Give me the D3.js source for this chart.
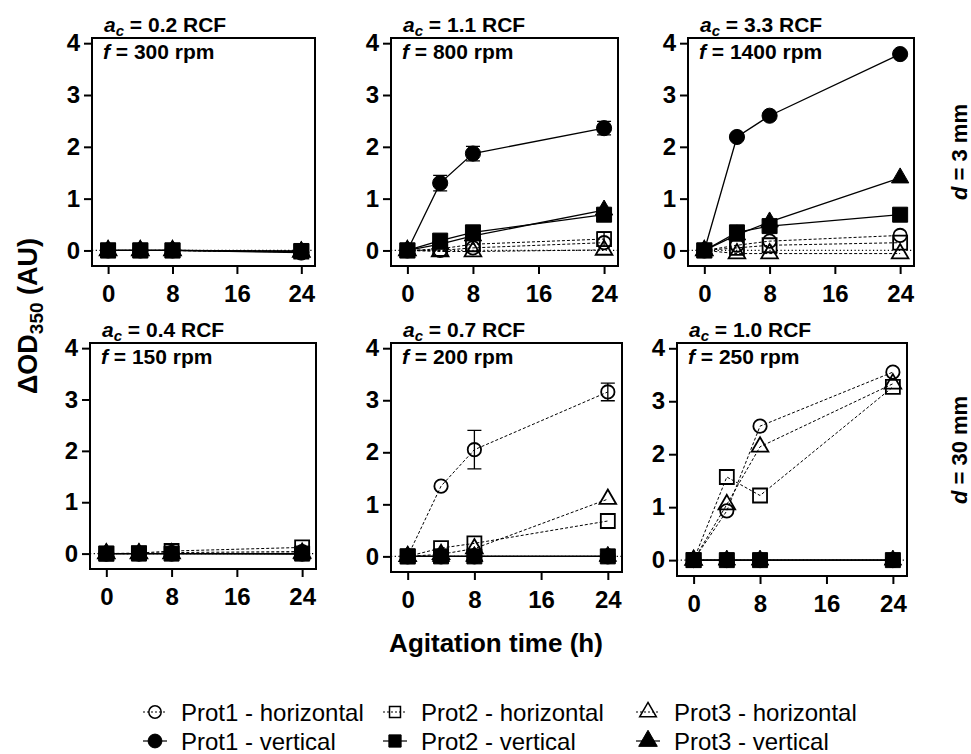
<!DOCTYPE html>
<html>
<head>
<meta charset="utf-8">
<script src="https://cdn.jsdelivr.net/npm/d3@7"></script>
<style>
body { margin: 0; background: #fff; }
svg { font-family: "Liberation Sans", Arial, sans-serif; }
</style>
</head>
<body>
<svg class="chart" width="971" height="754"></svg>
<script>
var times = [0, 4, 8, 24];
var xTicks = [0, 8, 16, 24];
var yTicks = [0, 1, 2, 3, 4];
var seriesNames = ["Prot1 - horizontal", "Prot2 - horizontal", "Prot3 - horizontal",
                   "Prot1 - vertical", "Prot2 - vertical", "Prot3 - vertical"];
var accel = ["0.2", "1.1", "3.3", "0.4", "0.7", "1.0"];
var rpm = ["300", "800", "1400", "150", "200", "250"];
var rowLabels = ["3 mm", "30 mm"];

// rows follow seriesNames, columns follow times
var panel1 = [
    [0, 0, 0, -0.02],
    [0, 0, 0, -0.02],
    [0, 0, 0, -0.03],
    [0, 0, 0, -0.04],
    [0, 0, 0, -0.01],
    [0, 0, 0, -0.02]
];
var panel2 = [
    [0, 0.0, 0.05, 0.15],
    [0, 0.03, 0.12, 0.22],
    [0, -0.02, -0.02, 0.01],
    [0, 1.3, 1.87, 2.36],
    [0, 0.19, 0.35, 0.69],
    [0, 0.12, 0.28, 0.78]
];
var panel3 = [
    [0, 0.1, 0.18, 0.29],
    [0, 0.05, 0.1, 0.15],
    [0, -0.06, -0.06, -0.06],
    [0, 2.19, 2.6, 3.79],
    [0, 0.35, 0.47, 0.69],
    [0, 0.3, 0.55, 1.4]
];
var panel4 = [
    [0, 0, 0.02, 0.04],
    [0, 0.01, 0.05, 0.12],
    [0, 0, 0, 0.01],
    [0, 0, 0, 0],
    [0, 0, 0, 0],
    [0, 0, 0, -0.01]
];
var panel5 = [
    [0, 1.35, 2.05, 3.16],
    [0, 0.16, 0.25, 0.68],
    [0, 0.04, 0.15, 1.1],
    [0, 0, 0, 0],
    [0, 0, 0, 0],
    [0, 0, 0, 0]
];
var panel6 = [
    [0, 0.93, 2.53, 3.55],
    [0, 1.57, 1.22, 3.27],
    [0, 1.05, 2.14, 3.33],
    [0, 0, 0, 0],
    [0, 0, 0, 0],
    [0, 0, 0, 0]
];
// standard deviations, same shape (null = no bars drawn)
var errors2 = [
    [0, 0, 0, 0],
    [0, 0, 0, 0.14],
    [0, 0, 0, 0],
    [0, 0.15, 0.14, 0.13],
    [0, 0, 0, 0],
    [0, 0, 0, 0]
];
var errors5 = [
    [0, 0, 0.37, 0.17],
    [0, 0, 0, 0],
    [0, 0, 0, 0],
    [0, 0, 0, 0],
    [0, 0, 0, 0],
    [0, 0, 0, 0]
];
var panelValues = [panel1, panel2, panel3, panel4, panel5, panel6];
var panelErrors = [null, errors2, null, null, errors5, null];

var frames = [
    {x0: 92, y0: 38, x1: 315, y1: 266},
    {x0: 391, y0: 38, x1: 618, y1: 266},
    {x0: 688, y0: 38, x1: 914, y1: 266},
    {x0: 90, y0: 343, x1: 316, y1: 569},
    {x0: 391, y0: 343, x1: 622, y1: 572},
    {x0: 677, y0: 343, x1: 907, y1: 576}
];

var symbolTypes = [d3.symbolCircle, d3.symbolSquare, d3.symbolTriangle];
var openSizes = [140, 196, 120];
var filledSizes = [180, 225, 130];

var chart = d3.select(".chart");

function drawPanel(p) {
    var f = frames[p];
    var x = d3.scaleLinear().domain([-2, 25.7]).range([f.x0, f.x1]);
    var y = d3.scaleLinear().domain([-0.3, 4.1]).range([f.y1, f.y0]);
    var g = chart.append("g").attr("class", "panel");

    // axes
    var xAxis = d3.axisBottom(x).tickValues(xTicks).tickSize(8).tickPadding(5)
        .tickFormat(d3.format("d"));
    var yAxis = d3.axisLeft(y).tickValues(yTicks).tickSize(8).tickPadding(4)
        .tickFormat(d3.format("d"));
    var ax = g.append("g").attr("transform", "translate(0," + f.y1 + ")").call(xAxis);
    var ay = g.append("g").attr("transform", "translate(" + f.x0 + ",0)").call(yAxis);
    [ax, ay].forEach(function(a) {
        a.select(".domain").remove();
        a.selectAll("line").attr("stroke", "#000").attr("stroke-width", 2);
        a.selectAll("text").attr("fill", "#000").style("font-size", "24px")
            .style("font-weight", "bold").style("font-family", "'Liberation Sans', Arial, sans-serif");
    });
    ax.selectAll("text").attr("dy", "0.95em");

    // dotted zero line
    g.append("line")
        .attr("x1", x(-2)).attr("x2", x(25.7))
        .attr("y1", y(0)).attr("y2", y(0))
        .attr("stroke", "#000").attr("stroke-width", 1.2)
        .attr("stroke-dasharray", "1.2,2.5");

    var vals = panelValues[p];
    var errs = panelErrors[p];
    var line = d3.line()
        .x(function(d, i) { return x(times[i]); })
        .y(function(d) { return y(d); });

    // lines: horizontal (dashed) first, vertical (solid) over them
    vals.forEach(function(s, k) {
        g.append("path")
            .datum(s)
            .attr("d", line)
            .attr("fill", "none")
            .attr("stroke", "#000")
            .attr("stroke-width", k < 3 ? 1 : 1.3)
            .attr("stroke-dasharray", k < 3 ? "3,2" : null);
    });

    // error bars
    if (errs) {
        errs.forEach(function(e, k) {
            e.forEach(function(sd, i) {
                if (!sd) return;
                var cx = x(times[i]);
                var v = vals[k][i];
                g.append("path")
                    .attr("d", "M" + (cx - 7) + "," + y(v + sd) + "H" + (cx + 7) +
                               "M" + cx + "," + y(v + sd) + "V" + y(v - sd) +
                               "M" + (cx - 7) + "," + y(v - sd) + "H" + (cx + 7))
                    .attr("fill", "none").attr("stroke", "#000").attr("stroke-width", 1.3);
            });
        });
    }

    // markers
    vals.forEach(function(s, k) {
        var open = k < 3;
        var sym = d3.symbol().type(symbolTypes[k % 3]).size(open ? openSizes[k % 3] : filledSizes[k % 3]);
        g.selectAll(".m" + k)
            .data(s)
            .enter().append("path")
            .attr("class", "m" + k)
            .attr("d", sym)
            .attr("transform", function(d, i) { return "translate(" + x(times[i]) + "," + y(d) + ")"; })
            .attr("fill", open ? "none" : "#000")
            .attr("stroke", "#000")
            .attr("stroke-width", open ? 1.8 : 1);
    });

    // frame
    g.append("rect")
        .attr("x", f.x0).attr("y", f.y0)
        .attr("width", f.x1 - f.x0).attr("height", f.y1 - f.y0)
        .attr("fill", "none").attr("stroke", "#000").attr("stroke-width", 2);

    // title above the frame
    var t = g.append("text")
        .attr("x", f.x0 + 12).attr("y", f.y0 - 6)
        .style("font-size", "21px").style("font-weight", "bold");
    t.append("tspan").style("font-style", "italic").text("a");
    t.append("tspan").style("font-style", "italic").style("font-size", "15px").attr("dy", 4).text("c");
    t.append("tspan").attr("dy", -4).text(" = " + accel[p] + " RCF");

    // rpm label inside the frame
    var r = g.append("text")
        .attr("x", f.x0 + 11).attr("y", f.y0 + 21)
        .style("font-size", "21px").style("font-weight", "bold");
    r.append("tspan").style("font-style", "italic").text("f");
    r.append("tspan").text(" = " + rpm[p] + " rpm");
}

for (var p = 0; p < 6; p++) {
    drawPanel(p);
}

// y axis title
var yl = chart.append("text")
    .attr("transform", "translate(37,316) rotate(-90)")
    .attr("text-anchor", "middle")
    .style("font-size", "27px").style("font-weight", "bold");
yl.append("tspan").text("ΔOD");
yl.append("tspan").style("font-size", "19px").attr("dy", 6).text("350");
yl.append("tspan").attr("dy", -6).text(" (AU)");

// x axis title
chart.append("text")
    .attr("x", 496).attr("y", 652)
    .attr("text-anchor", "middle")
    .style("font-size", "26px").style("font-weight", "bold")
    .text("Agitation time (h)");

// row labels on the right
var rowCenters = [152, 450];
rowLabels.forEach(function(lbl, i) {
    var t = chart.append("text")
        .attr("transform", "translate(967," + rowCenters[i] + ") rotate(-90)")
        .attr("text-anchor", "middle")
        .style("font-size", "22px").style("font-weight", "bold");
    t.append("tspan").style("font-style", "italic").text("d");
    t.append("tspan").text(" = " + lbl);
});

// legend
var legendX = [155, 395, 648];
var legendY = [712, 741];
seriesNames.forEach(function(name, k) {
    var cx = legendX[k % 3];
    var cy = legendY[Math.floor(k / 3)];
    var open = k < 3;
    chart.append("line")
        .attr("x1", cx - 12).attr("x2", cx + 12)
        .attr("y1", cy).attr("y2", cy)
        .attr("stroke", "#000").attr("stroke-width", 1.2)
        .attr("stroke-dasharray", open ? "2,2" : null);
    chart.append("path")
        .attr("d", d3.symbol().type(symbolTypes[k % 3]).size(open ? 120 : 150))
        .attr("transform", "translate(" + cx + "," + cy + ")")
        .attr("fill", open ? "none" : "#000")
        .attr("stroke", "#000")
        .attr("stroke-width", open ? 1.5 : 1);
    chart.append("text")
        .attr("x", cx + 26).attr("y", cy + 9)
        .style("font-size", "24px")
        .text(name);
});
</script>
</body>
</html>
